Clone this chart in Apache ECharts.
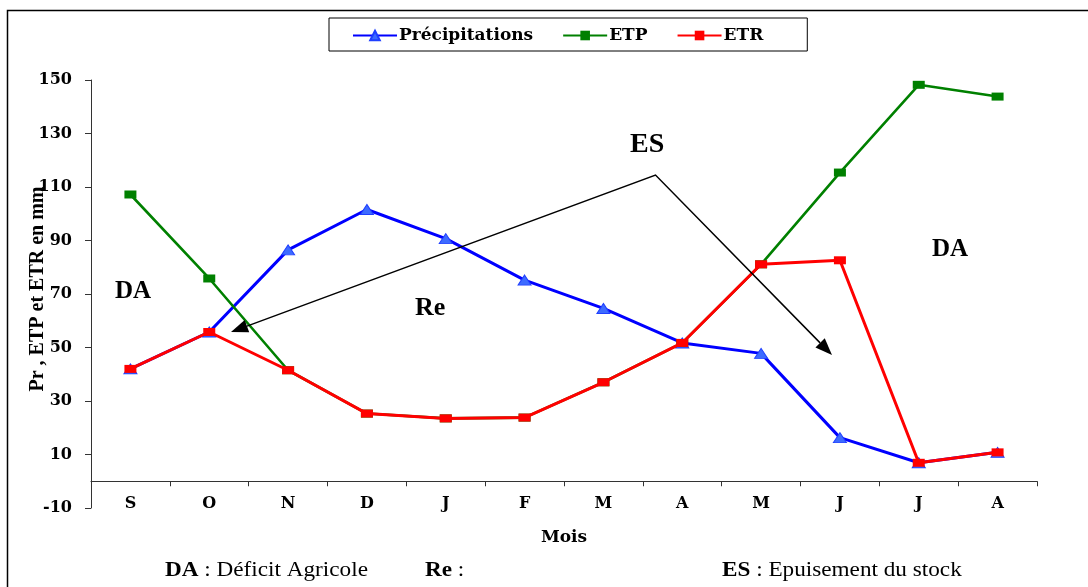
<!DOCTYPE html>
<html><head><meta charset="utf-8">
<script src="https://cdn.jsdelivr.net/npm/echarts@6/dist/echarts.min.js"></script>
<style>html,body{margin:0;padding:0;background:#fff}#c{width:1088px;height:587px}</style>
</head><body><div id="c"></div>
<script>
const months = ['S','O','N','D','J','F','M','A','M','J','J','A'];
const precipitations = [42.0, 55.8, 86.5, 101.6, 90.7, 75.2, 64.6, 51.7, 47.8, 16.3, 6.9, 10.8];
const etp = [107.2, 75.8, 41.5, 25.3, 23.5, 23.8, 37.0, 51.7, 81.1, 115.4, 148.2, 143.8];
const etr = [42.0, 55.8, 41.5, 25.3, 23.5, 23.8, 37.0, 51.7, 81.1, 82.6, 6.9, 10.8];
const yMin = -10, yMax = 150, yStep = 20;
const seriesNames = ['Précipitations', 'ETP', 'ETR'];

const chart = echarts.init(document.getElementById('c'), null, {renderer: 'canvas'});
const axisFont = '"DejaVu Serif"';
const tnr = '"Liberation Serif", "Times New Roman", serif';

// arrow annotation path (pixels)
const arrowPts = [[231, 332], [655.5, 175], [832, 355]];
function head(tip, from) {
  const dx = tip[0]-from[0], dy = tip[1]-from[1];
  const L = Math.hypot(dx, dy), ux = dx/L, uy = dy/L;
  const len = 17, w = 6.5;
  const bx = tip[0]-ux*len, by = tip[1]-uy*len;
  return {base:[bx,by], poly:[tip, [bx - uy*w, by + ux*w], [bx + uy*w, by - ux*w]]};
}
const hL = head(arrowPts[0], arrowPts[1]);
const hR = head(arrowPts[2], arrowPts[1]);

const option = {
  backgroundColor: '#fff',
  animation: false,
  legend: {
    left: 329, top: 18,
    data: seriesNames,
    borderColor: '#000', borderWidth: 1,
    padding: [9, 44, 7, 23],
    itemGap: 29, itemWidth: 44, itemHeight: 12,
    textStyle: {fontFamily: axisFont, fontWeight: 'bold', fontSize: 17, color: '#000', padding: [0, 0, 0, -3]}
  },
  grid: {left: 91, right: 51, top: 80, bottom: 79, containLabel: false},
  xAxis: {
    type: 'category', data: months, boundaryGap: true,
    name: 'Mois', nameLocation: 'middle', nameGap: 21,
    nameTextStyle: {fontFamily: axisFont, fontWeight: 'bold', fontSize: 17, color: '#000'},
    axisLine: {onZero: true, lineStyle: {color: '#333', width: 1}},
    axisTick: {show: true, length: 5, alignWithLabel: false, lineStyle: {color: '#333'}},
    axisLabel: {margin: -12, fontFamily: axisFont, fontWeight: 'bold', fontSize: 16, color: '#000'},
    splitLine: {show: false}
  },
  yAxis: {
    type: 'value', min: yMin, max: yMax, interval: yStep,
    name: 'Pr , ETP et ETR en mm', nameLocation: 'middle', nameGap: 43, nameRotate: 90,
    nameMoveOverlap: false,
    nameTextStyle: {fontFamily: tnr, fontWeight: 'bold', fontSize: 20, color: '#000', padding: [0, 0, 0, 10]},
    axisLine: {show: true, lineStyle: {color: '#333', width: 1}},
    axisTick: {show: true, length: 6, lineStyle: {color: '#333'}},
    axisLabel: {margin: 19, fontFamily: axisFont, fontWeight: 'bold', fontSize: 16, color: '#000'},
    splitLine: {show: false}
  },
  series: [
    {name: seriesNames[0], type: 'line', data: precipitations,
     symbol: 'triangle', symbolSize: [13, 10],
     lineStyle: {color: '#0000ff', width: 3},
     itemStyle: {color: '#3d6bff', borderColor: '#1f3fff', borderWidth: 1}, z: 2},
    {name: seriesNames[1], type: 'line', data: etp,
     symbol: 'rect', symbolSize: [12, 8],
     lineStyle: {color: '#008000', width: 2.6},
     itemStyle: {color: '#008000'}, z: 3},
    {name: seriesNames[2], type: 'line', data: etr,
     symbol: 'rect', symbolSize: [12, 8],
     lineStyle: {color: '#ff0000', width: 3},
     itemStyle: {color: '#ff0000'}, z: 4}
  ],
  graphic: [
    {type: 'rect', z: 0, silent: true, shape: {x: 7.5, y: 10.5, width: 1200, height: 700},
     style: {fill: 'none', stroke: '#000', lineWidth: 1.5}},
    {type: 'text', z: 50, style: {text: 'DA', x: 133, y: 292, align: 'center', verticalAlign: 'middle', font: 'bold 25px ' + tnr, fill: '#000'}},
    {type: 'text', z: 50, style: {text: 'DA', x: 950, y: 250, align: 'center', verticalAlign: 'middle', font: 'bold 25px ' + tnr, fill: '#000'}},
    {type: 'text', z: 50, style: {text: 'Re', x: 415, y: 308, align: 'left', verticalAlign: 'middle', font: 'bold 26px ' + tnr, fill: '#000'}},
    {type: 'rect', z: 51, silent: true, shape: {x: 405, y: 315.5, width: 55, height: 12}, style: {fill: '#fff'}},
    {type: 'text', z: 50, style: {text: 'ES', x: 630, y: 145, align: 'left', verticalAlign: 'middle', font: 'bold 28px ' + tnr, fill: '#000'}},
    {type: 'rect', z: 51, silent: true, shape: {x: 622, y: 153, width: 55, height: 12}, style: {fill: '#fff'}},
    {type: 'polyline', z: 60, silent: true, shape: {points: [hL.base, arrowPts[1], hR.base]},
     style: {stroke: '#000', lineWidth: 1.5, fill: null}},
    {type: 'polygon', z: 60, silent: true, shape: {points: hL.poly}, style: {fill: '#000'}},
    {type: 'polygon', z: 60, silent: true, shape: {points: hR.poly}, style: {fill: '#000'}},
    {type: 'text', z: 50, scaleX: 1.16, x: 165, y: 571, style: {
      text: '{b|DA} : Déficit Agricole', x: 0, y: 0, verticalAlign: 'middle',
      font: '20px ' + tnr, fill: '#000', rich: {b: {fontWeight: 'bold', fontSize: 20, fontFamily: tnr}}}},
    {type: 'text', z: 50, scaleX: 1.16, x: 425, y: 571, style: {
      text: '{b|Re} :', x: 0, y: 0, verticalAlign: 'middle',
      font: '20px ' + tnr, fill: '#000', rich: {b: {fontWeight: 'bold', fontSize: 20, fontFamily: tnr}}}},
    {type: 'text', z: 50, scaleX: 1.16, x: 722, y: 571, style: {
      text: '{b|ES} : Epuisement du stock', x: 0, y: 0, verticalAlign: 'middle',
      font: '20px ' + tnr, fill: '#000', rich: {b: {fontWeight: 'bold', fontSize: 20, fontFamily: tnr}}}}
  ]
};
chart.setOption(option);
</script></body></html>
